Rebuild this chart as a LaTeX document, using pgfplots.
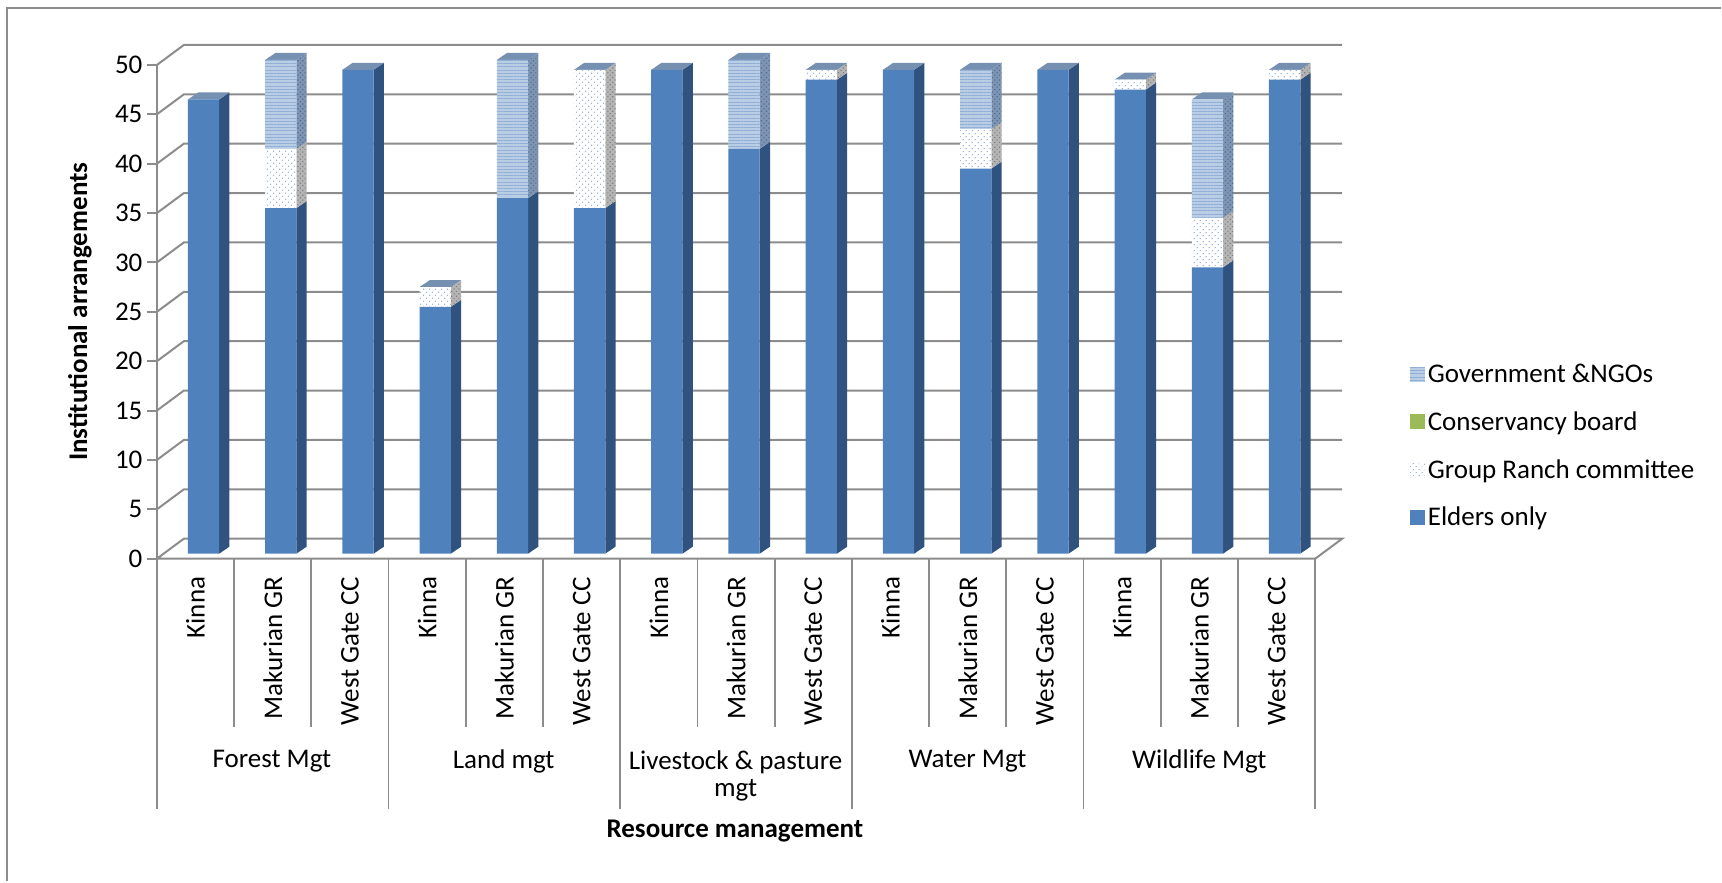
\documentclass[border=0pt]{standalone}
\usepackage{pgfplots}
\pgfplotsset{compat=1.18}
\usepackage{pgfplotstable}
\usepackage{fontspec}
\setmainfont{Carlito}
\usetikzlibrary{patterns.meta}

\definecolor{elders}{HTML}{4F81BD}
\definecolor{eldersside}{HTML}{30527F}
\definecolor{roof}{HTML}{7690B2}
\definecolor{gridc}{HTML}{8C8C8C}
\definecolor{board}{HTML}{9BBB59}
\definecolor{govbase}{HTML}{B9CDE5}
\definecolor{govline}{HTML}{8FAFD6}
\definecolor{govside}{HTML}{7D94B3}
\definecolor{govsideline}{HTML}{4F6B90}
\definecolor{groupside}{HTML}{B4B4B4}
\definecolor{groupsideline}{HTML}{7E7E7E}

% Managed resource: one row per site, counts per institution
\pgfplotstableread{
pos  elders group board gov
0.5  46 0  0 0
1.5  35 6  0 9
2.5  49 0  0 0
3.5  25 2  0 0
4.5  36 0  0 14
5.5  35 14 0 0
6.5  49 0  0 0
7.5  41 0  0 9
8.5  48 1  0 0
9.5  49 0  0 0
10.5 39 4  0 6
11.5 49 0  0 0
12.5 47 1  0 0
13.5 29 5  0 12
14.5 48 1  0 0
}\institutions

% Depth of a bar, in axis units
\newcommand\depthx{0.1333}
\newcommand\depthy{0.7085}
\newcommand\halfbar{0.2025}

% Side face of one stacked segment: position, base, top, style
\newcommand\sideface[4]{%
  \pgfmathsetmacro\xa{#1+\halfbar}%
  \pgfmathsetmacro\xb{\xa+\depthx}%
  \pgfmathsetmacro\ya{#2+\depthy}%
  \pgfmathsetmacro\yb{#3+\depthy}%
  \addplot[draw=none,#4] coordinates {(\xa,#2)(\xb,\ya)(\xb,\yb)(\xa,#3)} -- cycle;%
}
% Lid of one bar: position, height
\newcommand\lid[2]{%
  \pgfmathsetmacro\xa{#1-\halfbar}%
  \pgfmathsetmacro\xb{#1+\halfbar}%
  \pgfmathsetmacro\xc{\xb+\depthx}%
  \pgfmathsetmacro\xd{\xa+\depthx}%
  \pgfmathsetmacro\yb{#2+\depthy}%
  \addplot[draw=none,fill=roof] coordinates {(\xa,#2)(\xb,#2)(\xc,\yb)(\xd,\yb)} -- cycle;%
}

\tikzset{
  grouppat/.style={preaction={fill=white},pattern color=elders!70,pattern={Dots[radius=0.7pt,distance=4pt,angle=45]}},
  govpat/.style={preaction={fill=govbase},pattern color=govline,pattern={Lines[angle=0,distance=3.2pt,line width=1pt]}},
  groupsidepat/.style={preaction={fill=groupside},pattern color=groupsideline,pattern={Dots[radius=0.8pt,distance=3.4pt,angle=45]}},
  govsidepat/.style={preaction={fill=govside},pattern color=govsideline,pattern={Dots[radius=0.8pt,distance=3.4pt,angle=45]}},
}

\begin{document}
\begin{tikzpicture}[x=1pt,y=1pt]
\path (0,0) rectangle (1722,882);
% Outer frame
\draw[gridc,line width=2pt] (7,0) -- (7,874) -- (1722,874);

% Walls, floor, category dividers and labels
\begin{axis}[
  at={(157pt,323pt)},anchor=south west,
  scale only axis,width=1159pt,height=494pt,
  xmin=0,xmax=15,ymin=0,ymax=50,
  clip=false,
  axis line style={draw=none},
  axis x line*=bottom,axis y line*=left,
  ytick={0,5,...,50},
  xtick=\empty,
  ytick style={gridc,line width=2pt},
  major tick length=10pt,
  tick align=outside,
  /pgf/number format/assume math mode=true,
  yticklabel style={font=\fontsize{27}{27}\selectfont,xshift=-1pt},
  ylabel={\textbf{Institutional arrangements}},
  ylabel style={font=\fontsize{27}{27}\selectfont,at={(axis description cs:-0.0664,0.5)},anchor=center},
  xlabel={\textbf{Resource management}},
  xlabel style={font=\fontsize{27}{27}\selectfont,at={(axis description cs:0.499,-0.5526)},anchor=center},
]
\pgfplotsinvokeforeach{5,10,...,50}{
  \addplot[gridc,line width=2pt] coordinates {(0,#1)(0.349,#1+2.024)(15.349,#1+2.024)};
}
\addplot[gridc,line width=2pt] coordinates {(0,0)(0.349,2.024)(15.349,2.024)(15,0)(0,0)};
\addplot[gridc,line width=2pt] coordinates {(0,0)(0,50)};
% Dividers below the axis, in axis units: down to the site and theme label rows
\pgfplotsinvokeforeach{1,2,4,5,7,8,10,11,13,14}{
  \addplot[gridc,line width=1.8pt] coordinates {(#1,0)(#1,-17)};
}
\pgfplotsinvokeforeach{0,3,6,9,12,15}{
  \addplot[gridc,line width=1.8pt] coordinates {(#1,0)(#1,-25.4)};
}
\end{axis}

% Side faces and lids of the bars
\begin{axis}[
  at={(165pt,328pt)},anchor=south west,
  scale only axis,width=1159pt,height=494pt,
  xmin=0,xmax=15,ymin=0,ymax=50,
  clip=false,axis lines=none,
]
\pgfplotstablegetrowsof{\institutions}
\pgfmathtruncatemacro\lastrow{\pgfplotsretval-1}
\pgfplotsinvokeforeach{0,...,\lastrow}{
  \pgfplotstablegetelem{#1}{pos}\of\institutions \edef\p{\pgfplotsretval}
  \pgfplotstablegetelem{#1}{elders}\of\institutions \edef\ve{\pgfplotsretval}
  \pgfplotstablegetelem{#1}{group}\of\institutions \edef\vg{\pgfplotsretval}
  \pgfplotstablegetelem{#1}{gov}\of\institutions \edef\vo{\pgfplotsretval}
  \pgfmathsetmacro\hg{\ve+\vg}
  \pgfmathsetmacro\ho{\hg+\vo}
  \sideface{\p}{0}{\ve}{fill=eldersside}
  \ifdim\vg pt>0pt \sideface{\p}{\ve}{\hg}{groupsidepat}\fi
  \ifdim\vo pt>0pt \sideface{\p}{\hg}{\ho}{govsidepat}\fi
  \lid{\p}{\ho}
}
\end{axis}

% Front faces of the bars
\begin{axis}[
  at={(165pt,328pt)},anchor=south west,
  scale only axis,width=1159pt,height=494pt,
  xmin=0,xmax=15,ymin=0,ymax=50,
  clip=false,axis lines=none,
  ybar stacked,bar width=0.405,
  area legend,
  legend image code/.code={\path[#1] (0pt,-7.5pt) rectangle (15pt,7.5pt);},
  reverse legend,
  legend cell align=left,
  legend style={draw=none,fill=none,font=\fontsize{27}{27}\selectfont,
    at={(1.072,0.392)},anchor=north west,
    /tikz/every even column/.style={column sep=14pt},
    /tikz/nodes={inner xsep=3pt},
    row sep=23.5pt},
]
\addplot[draw=none,fill=elders] table[x=pos,y=elders] {\institutions};
\addlegendentry{Elders only}
\addplot[draw=none,grouppat] table[x=pos,y=group] {\institutions};
\addlegendentry{Group Ranch committee}
\addplot[draw=none,fill=board] table[x=pos,y=board] {\institutions};
\addlegendentry{Conservancy board}
\addplot[draw=none,govpat] table[x=pos,y=gov] {\institutions};
\addlegendentry{Government \&NGOs}
\end{axis}

% Site names, rotated, and theme names
\begin{axis}[
  at={(157pt,323pt)},anchor=south west,
  scale only axis,width=1159pt,height=494pt,
  xmin=0,xmax=15,ymin=0,ymax=50,
  clip=false,axis line style={draw=none},axis x line*=bottom,axis y line=none,
  xtick={0.5,1.5,...,14.5},
  xticklabels={Kinna,Makurian GR,West Gate CC,Kinna,Makurian GR,West Gate CC,Kinna,Makurian GR,West Gate CC,Kinna,Makurian GR,West Gate CC,Kinna,Makurian GR,West Gate CC},
  xticklabel style={rotate=90,anchor=east,font=\fontsize{27}{27}\selectfont,inner sep=0pt},
  major tick length=0pt,
  xticklabel shift=18pt,
]
\end{axis}
\foreach \x/\y/\t in {272/120/Forest Mgt,504/120/Land mgt,736/106/{Livestock \& pasture\\mgt},968/120/Water Mgt,1200/120/Wildlife Mgt}
  \node[font=\fontsize{27}{27}\selectfont,align=center,inner sep=0pt] at (\x,\y) {\t};
\end{tikzpicture}
\end{document}
